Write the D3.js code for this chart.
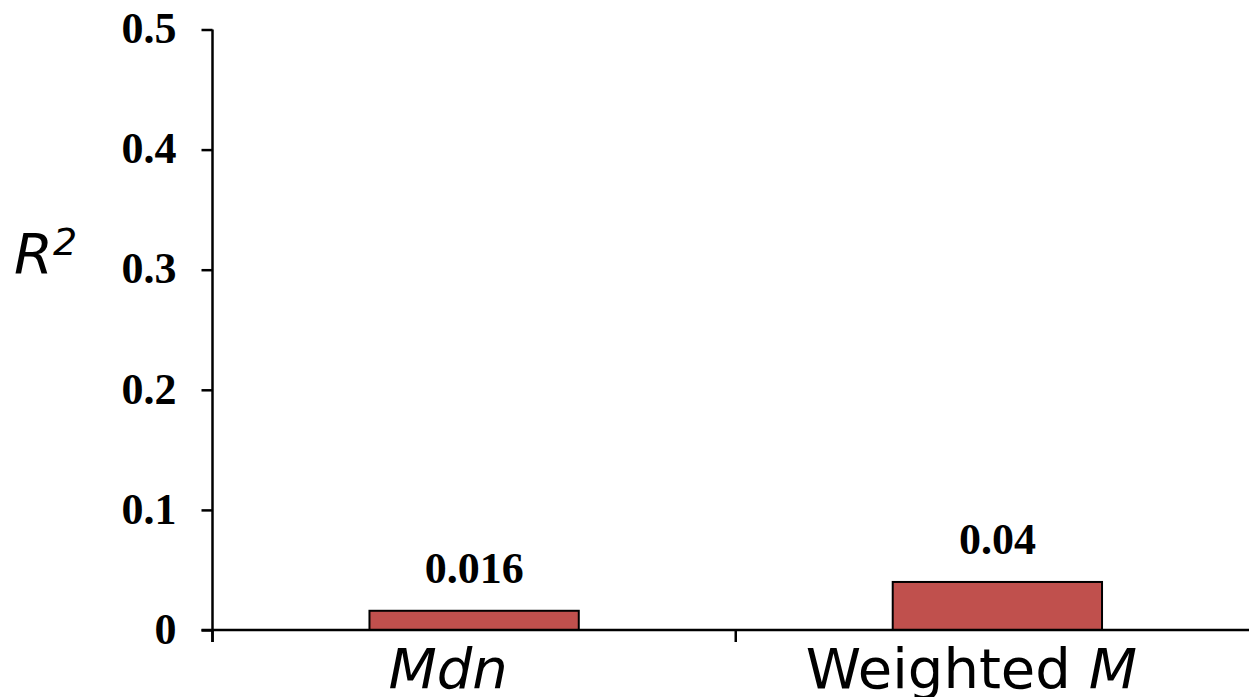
<!DOCTYPE html>
<html>
<head>
<meta charset="utf-8">
<script src="https://cdn.jsdelivr.net/npm/d3@7"></script>
<style>
  html, body { margin: 0; padding: 0; background: #fff; }
  svg { display: block; }
</style>
</head>
<body>
<svg id="chart" width="1249" height="697"></svg>
<script>
const categories = ["Mdn", "Weighted M"];
const values = [0.016, 0.04];
const valueLabels = ["0.016", "0.04"];
const yTicks = [0, 0.1, 0.2, 0.3, 0.4, 0.5];
const yTickLabels = ["0", "0.1", "0.2", "0.3", "0.4", "0.5"];

const svg = d3.select("#chart");
const x0 = 212.5, x1 = 1259, yTop = 29.5, yBot = 630;

const x = d3.scaleBand().domain(categories).range([x0, x1]).paddingInner(0).paddingOuter(0);
const y = d3.scaleLinear().domain([0, 0.5]).range([yBot, yTop]);
const barW = x.bandwidth() * 0.4;

// bars
svg.selectAll("rect.bar").data(values).enter().append("rect")
  .attr("class", "bar")
  .attr("x", (d, i) => x(categories[i]) + x.bandwidth() / 2 - barW / 2)
  .attr("y", d => y(d))
  .attr("width", barW)
  .attr("height", d => y(0) - y(d))
  .attr("fill", "#C0504D")
  .attr("stroke", "#000")
  .attr("stroke-width", 2);

// value labels
svg.selectAll("text.val").data(values).enter().append("text")
  .attr("class", "val")
  .attr("x", (d, i) => x(categories[i]) + x.bandwidth() / 2)
  .attr("y", d => y(d) - 28)
  .attr("text-anchor", "middle")
  .attr("font-family", "Liberation Serif, Times New Roman, serif")
  .attr("font-weight", "bold")
  .attr("font-size", 44)
  .text((d, i) => valueLabels[i]);

// y axis
const yAxis = d3.axisLeft(y).tickValues(yTicks).tickSize(11).tickPadding(25)
  .tickFormat((d, i) => yTickLabels[i]);
const gy = svg.append("g").attr("transform", `translate(${x0},0)`).call(yAxis);
gy.select(".domain").attr("stroke", "#000").attr("stroke-width", 2.5)
  .attr("d", `M0,${yTop}V${yBot + 12}`);
gy.selectAll(".tick line").attr("stroke", "#000").attr("stroke-width", 2.5);
gy.selectAll(".tick text")
  .attr("font-family", "Liberation Serif, Times New Roman, serif")
  .attr("font-weight", "bold")
  .attr("font-size", 44)
  .attr("fill", "#000")
  .attr("dy", "0.3em");

// x axis
const gx = svg.append("g").attr("transform", `translate(0,${yBot})`);
gx.append("line").attr("x1", x0 - 11).attr("x2", x1).attr("y1", 0).attr("y2", 0)
  .attr("stroke", "#000").attr("stroke-width", 2.5);
const bounds = [x0, x0 + x.bandwidth(), x1];
gx.selectAll("line.bt").data(bounds).enter().append("line")
  .attr("class", "bt")
  .attr("x1", d => d).attr("x2", d => d).attr("y1", 0).attr("y2", 12)
  .attr("stroke", "#000").attr("stroke-width", 2.5);

// x category labels
const lab = svg.selectAll("text.cat").data(categories).enter().append("text")
  .attr("class", "cat")
  .attr("x", d => x(d) + x.bandwidth() / 2 - 26)
  .attr("y", 688)
  .attr("text-anchor", "middle")
  .attr("font-family", "DejaVu Sans, Verdana, sans-serif")
  .attr("font-size", 56)
  .attr("fill", "#000");
lab.each(function(d) {
  const t = d3.select(this);
  if (d === "Mdn") {
    t.append("tspan").attr("font-style", "italic").text("Mdn");
  } else {
    t.append("tspan").text("Weighted ");
    t.append("tspan").attr("font-style", "italic").text("M");
  }
});

// y axis title R^2
const yt = svg.append("text")
  .attr("x", 14).attr("y", 273)
  .attr("font-family", "DejaVu Sans, Verdana, sans-serif")
  .attr("font-style", "italic")
  .attr("font-size", 56)
  .attr("fill", "#000");
yt.append("tspan").text("R");
yt.append("tspan").attr("font-size", 38).attr("dy", -18).text("2");
</script>
</body>
</html>
